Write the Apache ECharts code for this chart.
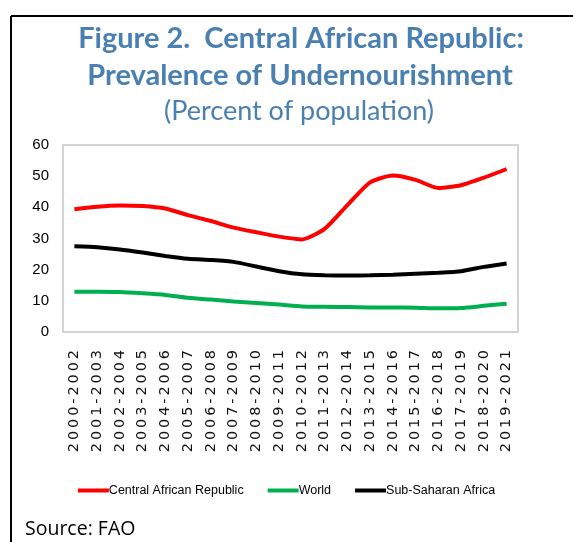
<!DOCTYPE html>
<html><head><meta charset="utf-8">
<script src="https://cdn.jsdelivr.net/npm/echarts@6/dist/echarts.min.js"></script>
<style>html,body{margin:0;padding:0;background:#fff}#c{width:573px;height:542px}</style>
</head><body><div id="c"></div>
<script>
const categories = ["2000-2002","2001-2003","2002-2004","2003-2005","2004-2006","2005-2007","2006-2008","2007-2009","2008-2010","2009-2011","2010-2012","2011-2013","2012-2014","2013-2015","2014-2016","2015-2017","2016-2018","2017-2019","2018-2020","2019-2021"];
const car = [39.4,40.2,40.6,40.4,39.6,37.5,35.6,33.5,32.0,30.6,29.7,33.1,40.7,48.0,50.2,48.8,46.2,47.1,49.5,52.3];
const world = [12.9,12.9,12.8,12.4,11.9,11.0,10.4,9.8,9.3,8.8,8.2,8.1,8.0,7.9,7.9,7.8,7.6,7.7,8.4,9.1];
const ssa = [27.5,27.2,26.5,25.5,24.4,23.5,23.1,22.5,21.0,19.5,18.5,18.2,18.1,18.2,18.4,18.7,19.0,19.5,20.9,22.0];
const yTicks = [0,10,20,30,40,50,60];
const titleLines = ["Figure 2.  Central African Republic:", "Prevalence of Undernourishment", "(Percent of population)"];
const sourceText = "Source: FAO";

const blue = '#4a7fb2';
const chart = echarts.init(document.getElementById('c'));
const spaced = s => s.split('').join('\u2009');
chart.setOption({
  animation: false,
  backgroundColor: '#fff',
  graphic: [
    {type: 'line', shape: {x1: 11, y1: 16, x2: 573, y2: 16}, style: {stroke: '#000', lineWidth: 2}},
    {type: 'line', shape: {x1: 11, y1: 16, x2: 11, y2: 542}, style: {stroke: '#000', lineWidth: 2}},
    {type: 'text', x: 301, y: 39, style: {text: titleLines[0], font: 'bold 29px Lato', fill: blue, align: 'center', verticalAlign: 'middle'}},
    {type: 'text', x: 300, y: 76, style: {text: titleLines[1], font: 'bold 29px Lato', fill: blue, align: 'center', verticalAlign: 'middle'}},
    {type: 'text', x: 299, y: 111, style: {text: titleLines[2], font: 'normal 27px Lato', fill: blue, align: 'center', verticalAlign: 'middle'}},
    {type: 'text', x: 25, y: 529, style: {text: sourceText, font: 'normal 19.5px "Open Sans"', fill: '#000', align: 'left', verticalAlign: 'middle'}}
  ],
  legend: {
    top: 479, left: 'center', itemWidth: 31, itemHeight: 4, itemGap: 24,
    icon: 'rect',
    textStyle: {fontFamily: '"Liberation Sans"', fontSize: 12.5, color: '#000', padding: [0,0,0,-5]},
    data: ['Central African Republic','World','Sub-Saharan Africa']
  },
  grid: {left: 63, top: 145, right: 55, bottom: 210, show: true, borderColor: '#d4d4d4', borderWidth: 2},
  xAxis: {
    type: 'category', data: categories, boundaryGap: true,
    axisLine: {show: false}, axisTick: {show: false},
    axisLabel: {rotate: 90, margin: 18, interval: 0, fontFamily: '"DejaVu Sans"', fontSize: 14.5, color: '#111',
      formatter: v => spaced(v)}
  },
  yAxis: {
    type: 'value', min: yTicks[0], max: yTicks[yTicks.length-1], interval: 10,
    splitLine: {show: false}, axisLine: {show: false}, axisTick: {show: false},
    axisLabel: {margin: 14, fontFamily: '"Liberation Sans"', fontSize: 15, color: '#000'}
  },
  series: [
    {name: 'Central African Republic', type: 'line', data: car, smooth: 0.2, symbol: 'none', lineStyle: {color: '#ff0000', width: 4}, itemStyle: {color: '#ff0000'}},
    {name: 'World', type: 'line', data: world, smooth: 0.2, symbol: 'none', lineStyle: {color: '#00b050', width: 4}, itemStyle: {color: '#00b050'}},
    {name: 'Sub-Saharan Africa', type: 'line', data: ssa, smooth: 0.2, symbol: 'none', lineStyle: {color: '#000', width: 4}, itemStyle: {color: '#000'}}
  ]
});
</script></body></html>
